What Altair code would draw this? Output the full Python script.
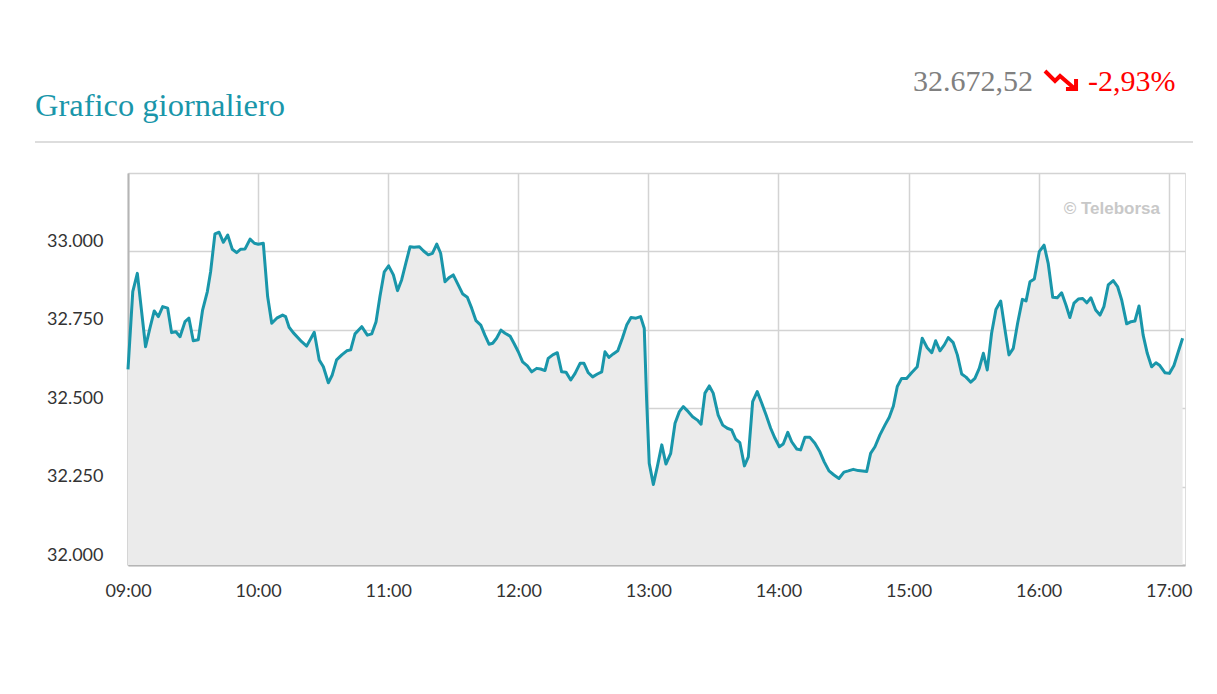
import altair as alt
import pandas as pd

# ---- data (minutes after 09:00, index level) ----
minutes = [0.0, 2.2, 4.3, 8.1, 10.1, 12.1, 14.0, 16.0, 18.3, 20.1, 22.1, 24.0, 26.3, 28.1, 30.1, 32.4,
           34.4, 36.6, 38.1, 40.1, 42.0, 44.0, 46.0, 48.1, 50.1, 52.0, 54.0, 56.3, 58.3, 60.1, 62.4,
           64.4, 66.3, 68.6, 71.3, 72.7, 74.3, 76.2, 80.1, 82.4, 85.9, 88.2, 90.1, 92.4, 94.2, 96.2,
           98.6, 100.9, 102.7, 104.7, 107.8, 110.4, 112.4, 114.4, 116.2, 118.2, 120.2, 122.4, 124.3,
           126.2, 128.2, 130.1, 131.9, 134.4, 136.2, 138.5, 140.4, 142.4, 144.2, 146.2, 148.2, 150.0,
           152.3, 154.4, 156.5, 158.5, 160.5, 162.7, 164.6, 166.5, 168.2, 170.0, 172.0, 173.9, 176.2,
           178.0, 180.0, 182.0, 184.2, 186.2, 188.5, 190.3, 192.3, 193.8, 195.9, 198.0, 200.0, 202.0,
           204.2, 206.2, 208.5, 210.3, 212.3, 214.3, 216.5, 218.5, 220.0, 221.8, 223.8, 225.9, 228.0,
           230.0, 232.0, 234.3, 236.4, 238.1, 239.2, 240.4, 242.3, 244.1, 246.2, 248.1, 250.3, 252.3,
           254.3, 256.1, 258.4, 260.4, 262.6, 264.3, 266.1, 268.1, 269.9, 272.2, 274.3, 276.4, 278.4,
           280.3, 282.2, 284.3, 286.1, 288.1, 290.2, 292.3, 294.3, 296.4, 298.4, 300.4, 302.2, 304.3,
           306.1, 308.4, 310.2, 312.2, 314.5, 316.8, 319.1, 321.1, 323.3, 325.6, 327.9, 330.2, 332.2,
           334.5, 336.8, 338.8, 340.7, 342.5, 344.5, 346.8, 349.1, 351.1, 353.0, 354.8, 356.8, 359.1,
           361.4, 364.0, 366.3, 368.6, 370.7, 372.5, 374.5, 376.5, 378.3, 380.6, 382.5, 384.5, 386.5,
           388.7, 390.6, 392.6, 394.5, 396.3, 398.3, 400.3, 402.5, 404.5, 406.3, 408.3, 410.3, 412.5,
           414.2, 416.0, 418.0, 420.3, 422.5, 424.4, 426.5, 428.6, 430.6, 432.6, 434.4, 436.3, 438.3,
           440.3, 442.2, 444.1, 446.3, 448.3, 450.1, 452.1, 454.4, 456.4, 458.3, 460.6, 462.6, 464.4,
           466.3, 468.2, 470.1, 472.1, 474.1, 475.9, 478.3, 480.3, 482.4, 484.4, 486.4]

values = [32624, 32872, 32930, 32696, 32755, 32810, 32792, 32824, 32819, 32741, 32744, 32728, 32776,
          32787, 32715, 32718, 32813, 32872, 32935, 33056, 33061, 33029, 33052, 33007, 32996, 33007,
          33008, 33039, 33026, 33023, 33026, 32856, 32771, 32787, 32797, 32792, 32758, 32741, 32712,
          32698, 32742, 32654, 32632, 32581, 32606, 32654, 32670, 32683, 32686, 32737, 32760, 32733,
          32737, 32776, 32856, 32935, 32954, 32925, 32875, 32909, 32964, 33015, 33013, 33015, 33002,
          32989, 32994, 33023, 32994, 32903, 32917, 32925, 32893, 32864, 32854, 32819, 32779, 32765,
          32733, 32704, 32707, 32723, 32749, 32739, 32730, 32707, 32680, 32648, 32635, 32616, 32627,
          32625, 32620, 32659, 32670, 32677, 32616, 32615, 32590, 32611, 32643, 32643, 32613, 32600,
          32609, 32616, 32680, 32662, 32673, 32683, 32723, 32765, 32789, 32787, 32792, 32755, 32526,
          32324, 32257, 32313, 32383, 32322, 32356, 32452, 32489, 32505, 32489, 32473, 32462, 32449,
          32548, 32571, 32548, 32478, 32446, 32436, 32431, 32401, 32390, 32316, 32345, 32521, 32553,
          32516, 32478, 32436, 32404, 32377, 32386, 32423, 32393, 32370, 32367, 32407, 32407, 32388,
          32361, 32329, 32300, 32287, 32276, 32296, 32300, 32305, 32301, 32300, 32298, 32356, 32377,
          32415, 32446, 32471, 32507, 32569, 32595, 32595, 32613, 32632, 32723, 32693, 32677, 32715,
          32683, 32702, 32725, 32709, 32670, 32609, 32599, 32583, 32595, 32627, 32675, 32622, 32739,
          32815, 32842, 32749, 32670, 32691, 32771, 32847, 32842, 32903, 32912, 32999, 33020, 32962,
          32854, 32852, 32868, 32829, 32789, 32835, 32848, 32850, 32836, 32852, 32813, 32797, 32824,
          32893, 32907, 32888, 32845, 32769, 32776, 32778, 32826, 32733, 32675, 32632, 32645, 32636,
          32613, 32611, 32636, 32680, 32723]

x_ticks = [0, 60, 120, 180, 240, 300, 360, 420, 480]
y_ticks = [32000, 32250, 32500, 32750, 33000, 33250]
x_domain = [0, 487.5]
y_domain = [32000, 33250]
baseline_value = 32000

title_text = "Grafico giornaliero"
last_value_text = "32.672,52"
change_text = "-2,93%"
watermark_text = "\u00a9 Teleborsa"

TEAL = "#1996aa"
RED = "#ff0000"
W, H = 1057, 392

df = pd.DataFrame({"m": minutes, "v": values})
df["base"] = baseline_value

x_enc = alt.X(
    "m:Q",
    scale=alt.Scale(domain=x_domain, nice=False, zero=False),
    axis=alt.Axis(
        values=x_ticks,
        labelExpr="(datum.value/60 + 9 < 10 ? '0' : '') + (datum.value/60 + 9) + ':00'",
        title=None, ticks=False, grid=True,
        gridColor="#d3d3d3", gridWidth=1.5,
        domainColor="#b5b5b5", domainWidth=2,
        labelFont="Lato", labelFontSize=18, labelColor="#333333",
        labelPadding=17, labelFlush=False,
    ),
)
y_enc = alt.Y(
    "v:Q",
    scale=alt.Scale(domain=y_domain, nice=False, zero=False),
    axis=alt.Axis(
        values=y_ticks,
        labelExpr="datum.value >= 33250 ? '' : replace(format(datum.value, ',d'), ',', '.')",
        title=None, ticks=False, grid=True,
        gridColor="#d3d3d3", gridWidth=1.5,
        domainColor="#b5b5b5", domainWidth=2,
        labelFont="Lato", labelFontSize=18, labelColor="#333333",
        labelPadding=25, labelOffset=-10, labelFlush=False,
    ),
)

area = alt.Chart(df).mark_area(color="#ebebeb", opacity=1).encode(
    x=x_enc, y=y_enc, y2=alt.Y2("base:Q")
)
line = alt.Chart(df).mark_line(color=TEAL, strokeWidth=3, strokeJoin="round").encode(x=x_enc, y=y_enc)

one = pd.DataFrame({"t": [title_text], "lv": [last_value_text], "ch": [change_text], "wm": [watermark_text]})

title = alt.Chart(one).mark_text(
    align="left", baseline="alphabetic", font="Liberation Serif", fontSize=32.5, color=TEAL
).encode(x=alt.value(-93), y=alt.value(-57), text="t:N")

last_val = alt.Chart(one).mark_text(
    align="right", baseline="alphabetic", font="Liberation Serif", fontSize=30, color="#808080"
).encode(x=alt.value(905), y=alt.value(-82), text="lv:N")

change = alt.Chart(one).mark_text(
    align="left", baseline="alphabetic", font="Liberation Serif", fontSize=30, color=RED
).encode(x=alt.value(960), y=alt.value(-82), text="ch:N")

arrow_path = "M -1 -0.56 L -0.375 0.06 L -0.06 -0.25 L 0.81 0.5 M 0.31 0.56 L 0.94 0.56 L 0.94 -0.06"
arrow = alt.Chart(one).mark_point(
    shape=arrow_path, filled=False, stroke=RED, strokeWidth=4, size=1024, opacity=1
).encode(x=alt.value(933), y=alt.value(-93))

separator = alt.Chart(one).mark_rule(color="#dddddd", strokeWidth=2).encode(
    x=alt.value(-93), x2=alt.value(1065), y=alt.value(-31)
)

watermark = alt.Chart(one).mark_text(
    align="right", baseline="middle", font="Liberation Sans", fontWeight="bold", fontSize=17, color="#c8c8c8"
).encode(x=alt.value(1032), y=alt.value(36), text="wm:N")

chart = alt.layer(area, line, watermark, title, last_val, change, arrow, separator).properties(
    width=W, height=H,
    autosize=alt.AutoSizeParams(type="none"),
    padding={"left": 120, "top": 165, "right": 24, "bottom": 120},
).configure_view(stroke=None).configure(background="white")

chart.save("out.html", embed_options={"renderer": "svg", "actions": False})
